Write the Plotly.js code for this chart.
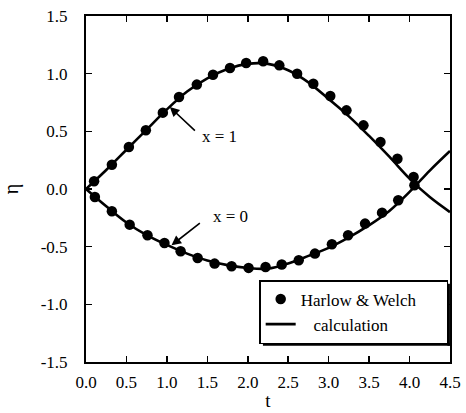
<!DOCTYPE html>
<html>
<head>
<meta charset="utf-8">
<script src="https://cdn.plot.ly/plotly-3.0.1.min.js"></script>
<style>html,body{margin:0;padding:0;background:#fff;}#chart{width:466px;height:413px;}</style>
</head>
<body>
<div id="chart"></div>
<script>
// Harlow & Welch data points, x = 1
const hwT1 = [0.10,0.32,0.53,0.74,0.95,1.15,1.37,1.57,1.78,1.98,2.19,2.39,2.61,2.81,3.02,3.22,3.43,3.64,3.85,4.05];
const hwEta1 = [0.067,0.21,0.364,0.509,0.662,0.797,0.905,0.991,1.049,1.092,1.107,1.072,1.0,0.913,0.806,0.682,0.552,0.407,0.263,0.104];
// Harlow & Welch data points, x = 0
const hwT0 = [0.11,0.32,0.54,0.76,0.97,1.17,1.38,1.59,1.80,2.01,2.22,2.42,2.63,2.83,3.04,3.24,3.45,3.66,3.86,4.06];
const hwEta0 = [-0.069,-0.193,-0.309,-0.401,-0.468,-0.54,-0.598,-0.647,-0.67,-0.684,-0.676,-0.655,-0.618,-0.56,-0.479,-0.401,-0.30,-0.205,-0.098,0.032];
// calculation curves
const calcT = [0,0.25,0.5,0.75,1.0,1.25,1.5,1.75,2.0,2.25,2.5,2.75,3.0,3.25,3.5,3.75,4.0,4.25,4.5];
const calcEta1 = [0,0.165,0.34,0.515,0.69,0.845,0.96,1.04,1.085,1.085,1.03,0.925,0.78,0.63,0.46,0.28,0.09,-0.07,-0.20];
const calcEta0 = [0,-0.15,-0.29,-0.40,-0.485,-0.56,-0.62,-0.66,-0.685,-0.69,-0.645,-0.58,-0.51,-0.42,-0.314,-0.19,-0.025,0.16,0.33];
// ticks
const xTickVals = [0,0.5,1,1.5,2,2.5,3,3.5,4,4.5];
const xTickText = ["0.0","0.5","1.0","1.5","2.0","2.5","3.0","3.5","4.0","4.5"];
const yTickVals = [-1.5,-1,-0.5,0,0.5,1,1.5];
const yTickText = ["-1.5","-1.0","-0.5","0.0","0.5","1.0","1.5"];

const FONT = "Liberation Serif, Times New Roman, serif";
const NB = '\u00a0';

const traces = [
  {x: hwT1, y: hwEta1, mode: 'markers', marker: {color: '#000', size: 10.5}, name: 'Harlow & Welch' + NB.repeat(6), legendrank: 1, showlegend: true},
  {x: hwT0, y: hwEta0, mode: 'markers', marker: {color: '#000', size: 10.5}, showlegend: false},
  {x: calcT, y: calcEta1, mode: 'lines', line: {color: '#000', width: 2.6, shape: 'spline'}, name: NB.repeat(3) + 'calculation', legendrank: 2, showlegend: true},
  {x: calcT, y: calcEta0, mode: 'lines', line: {color: '#000', width: 2.6, shape: 'spline'}, showlegend: false}
];

const axisCommon = {
  showgrid: false, zeroline: false, showline: true, linecolor: '#000', linewidth: 2,
  mirror: 'ticks', ticks: 'inside', ticklen: 6, tickwidth: 1.5, tickcolor: '#000',
  tickfont: {family: FONT, size: 17, color: '#000'}
};

const layout = {
  width: 466, height: 413,
  margin: {l: 86, r: 16, t: 16, b: 51},
  paper_bgcolor: '#fff', plot_bgcolor: '#fff',
  font: {family: FONT, color: '#000'},
  xaxis: Object.assign({}, axisCommon, {
    range: [0, 4.5], tickvals: xTickVals, ticktext: xTickText,
    ticklabelstandoff: 4,
    title: {text: 't', font: {family: FONT, size: 19, color: '#000'}, standoff: 2}
  }),
  yaxis: Object.assign({}, axisCommon, {
    range: [-1.5, 1.5], tickvals: yTickVals, ticktext: yTickText,
    ticklabelstandoff: 13,
    title: {text: 'η', font: {family: FONT, size: 20, color: '#000'}, standoff: 23}
  }),
  legend: {
    x: 0.995, y: 0.052, xanchor: 'right', yanchor: 'bottom',
    bgcolor: '#fff', bordercolor: '#000', borderwidth: 1.5,
    font: {family: FONT, size: 17, color: '#000'},
    tracegroupgap: 0, itemwidth: 30
  },
  annotations: [
    {x: 1.036, y: 0.711, ax: 1.365, ay: 0.494, axref: 'x', ayref: 'y', xref: 'x', yref: 'y',
     text: '', showarrow: true, arrowhead: 2, arrowsize: 1.2, arrowwidth: 1.6, arrowcolor: '#000'},
    {x: 1.057, y: -0.488, ax: 1.426, ay: -0.286, axref: 'x', ayref: 'y', xref: 'x', yref: 'y',
     text: '', showarrow: true, arrowhead: 2, arrowsize: 1.2, arrowwidth: 1.6, arrowcolor: '#000'},
    {x: 1.652, y: 0.452, xref: 'x', yref: 'y', text: 'x = 1', showarrow: false,
     font: {family: FONT, size: 17, color: '#000'}},
    {x: 1.788, y: -0.237, xref: 'x', yref: 'y', text: 'x = 0', showarrow: false,
     font: {family: FONT, size: 17, color: '#000'}}
  ]
};

Plotly.newPlot('chart', traces, layout, {displayModeBar: false, staticPlot: true}).then(function (gd) {
  // drop shadow on legend box (right and bottom edges)
  const bg = gd.querySelector('.legend .bg');
  if (!bg) return;
  const r = bg.getBoundingClientRect();
  const c = gd.getBoundingClientRect();
  const fs = gd._fullLayout._size;
  const px = v => (v - c.left - fs.l) / fs.w;
  const py = v => 1 - (v - c.top - fs.t) / fs.h;
  const off = 2.5;
  const shapes = [
    {type: 'line', xref: 'paper', yref: 'paper', x0: px(r.right + off / 2), x1: px(r.right + off / 2), y0: py(r.top + 3), y1: py(r.bottom + off), line: {color: '#000', width: off}},
    {type: 'line', xref: 'paper', yref: 'paper', x0: px(r.left + 3), x1: px(r.right + off), y0: py(r.bottom + off / 2), y1: py(r.bottom + off / 2), line: {color: '#000', width: off}}
  ];
  return Plotly.relayout(gd, {shapes: shapes});
});
</script>
</body>
</html>
